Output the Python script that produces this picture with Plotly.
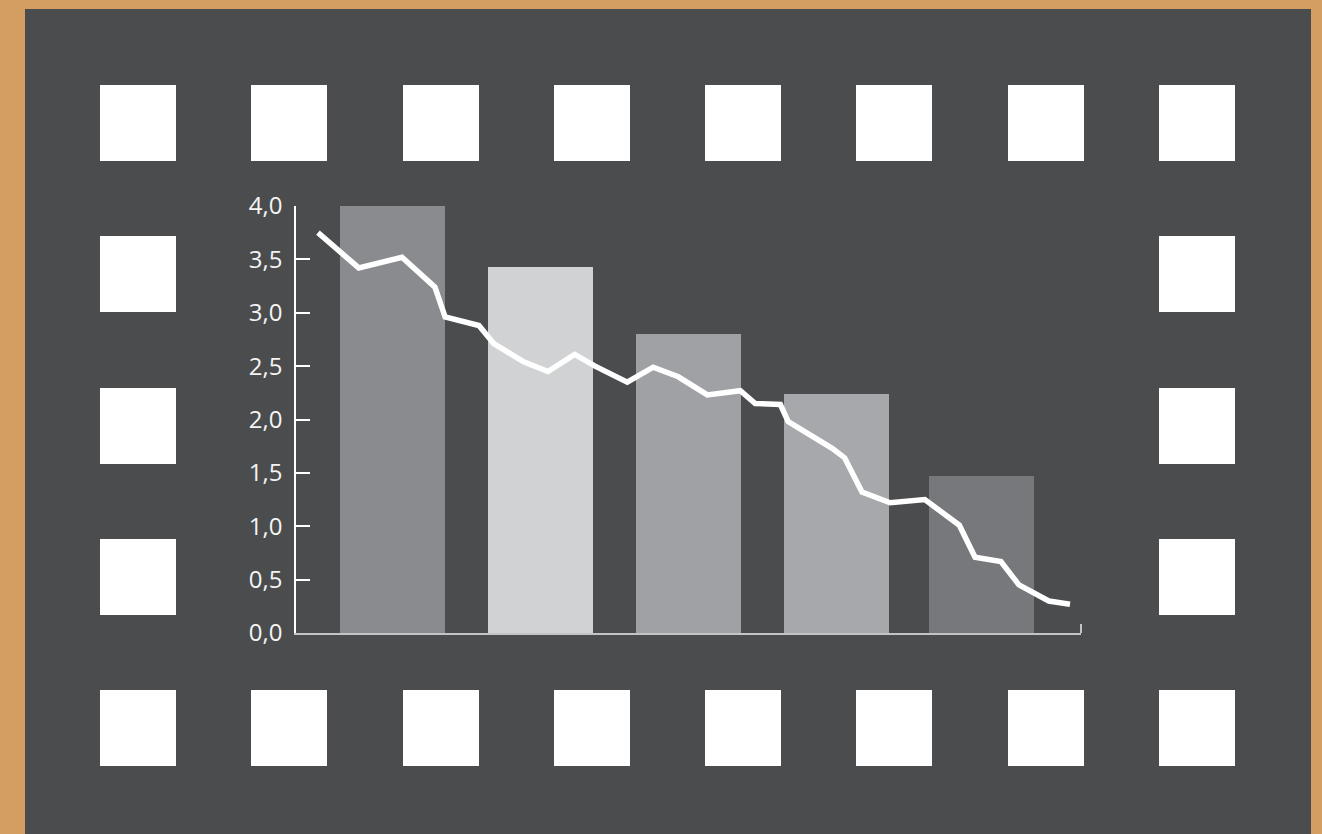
import plotly.graph_objects as go

# ---- data ----
bar_x = [12.3, 31.1, 50.0, 68.9, 87.3]
bar_values = [4.0, 3.43, 2.80, 2.24, 1.47]
bar_colors = ["#8A8B8E", "#D1D2D4", "#A0A1A4", "#A7A8AB", "#77787B"]

line_x = [2.8, 8.0, 13.5, 17.7, 19.0, 23.3, 25.2, 29.0, 32.1, 35.5, 38.1,
          42.2, 45.5, 48.7, 52.4, 56.6, 58.5, 61.7, 62.7, 65.7, 68.3, 69.9,
          72.1, 75.7, 80.1, 84.5, 86.5, 89.8, 92.1, 95.9, 98.6]
line_y = [3.75, 3.42, 3.52, 3.24, 2.96, 2.88, 2.71, 2.54, 2.45, 2.61, 2.50,
          2.35, 2.49, 2.40, 2.23, 2.27, 2.15, 2.14, 1.98, 1.85, 1.73, 1.64,
          1.32, 1.22, 1.25, 1.01, 0.71, 0.67, 0.45, 0.30, 0.27]

y_ticks = [0, 0.5, 1.0, 1.5, 2.0, 2.5, 3.0, 3.5, 4.0]

# ---- layout geometry (pixels) ----
W, H = 1322, 834
PL, PR, PT, PB = 296, 1081, 206, 633

def px(x):
    return (x - PL) / (PR - PL)

def py(y):
    return (PB - y) / (PB - PT)

fig = go.Figure()
fig.add_trace(go.Bar(x=bar_x, y=bar_values, width=13.4,
                     marker=dict(color=bar_colors, line=dict(width=0)),
                     hoverinfo="skip", showlegend=False))
fig.add_trace(go.Scatter(x=line_x, y=line_y, mode="lines",
                         line=dict(color="#FFFFFF", width=5.5),
                         hoverinfo="skip", showlegend=False, cliponaxis=False))

shapes = []
# dark film background
shapes.append(dict(type="rect", xref="paper", yref="paper",
                   x0=px(25), x1=px(1311), y0=py(840), y1=py(9),
                   fillcolor="#4B4C4E", line=dict(width=0), layer="below"))
# sprocket squares
cols = [100, 251, 403, 554, 705, 856, 1008, 1159]
rows = [85, 236, 388, 539, 690]
S = 76
for r_i, r in enumerate(rows):
    for c_i, c in enumerate(cols):
        if r_i in (0, len(rows) - 1) or c_i in (0, len(cols) - 1):
            shapes.append(dict(type="rect", xref="paper", yref="paper",
                               x0=px(c), x1=px(c + S), y0=py(r + S), y1=py(r),
                               fillcolor="#FFFFFF", line=dict(width=0),
                               layer="below"))
# small end tick at the right end of the x axis
shapes.append(dict(type="line", xref="paper", yref="paper",
                   x0=1, x1=1, y0=0, y1=py(624),
                   line=dict(color="#C4C4C6", width=2)))

fig.update_layout(
    width=W, height=H,
    margin=dict(l=PL, r=W - PR, t=PT, b=H - PB, pad=0),
    paper_bgcolor="#D49D62",
    plot_bgcolor="rgba(0,0,0,0)",
    separators=",.",
    bargap=0,
    shapes=shapes,
    font=dict(family="Open Sans", color="#F4F4F4", size=24),
    xaxis=dict(range=[0, 100], showgrid=False, zeroline=False,
               showline=True, linecolor="#C4C4C6", linewidth=2,
               showticklabels=False, ticks="", fixedrange=True),
    yaxis=dict(range=[0, 4], showgrid=False, zeroline=False,
               showline=True, linecolor="#FFFFFF", linewidth=1.5,
               tickvals=y_ticks, tickformat=".1f", ticks="inside",
               ticklen=14, tickwidth=1.5, tickcolor="#FFFFFF",
               ticklabelstandoff=7, fixedrange=True),
)

fig.write_html("out.html", config={"displayModeBar": False},
               post_script="document.body.style.margin='0';document.body.style.overflow='hidden';")
